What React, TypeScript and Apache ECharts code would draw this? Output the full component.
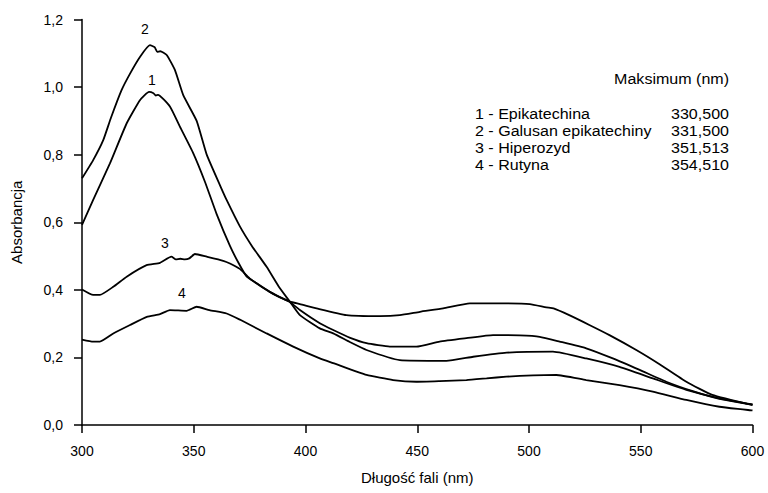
import React, { useEffect, useRef } from "react";
import * as echarts from "echarts";

// Wavelength (nm) / absorbance pairs
const epikatechina: [number, number][] = [
  [300, 0.592], [305, 0.666], [312.5, 0.774], [320, 0.893], [326, 0.962], [330, 0.986],
  [332, 0.982], [333, 0.975], [334, 0.977], [339.4, 0.942], [343.8, 0.883], [349.8, 0.804],
  [355, 0.72], [360.2, 0.625], [366.2, 0.53], [370, 0.48], [373.6, 0.44], [378, 0.42],
  [384, 0.394], [388, 0.38], [393, 0.364], [397.5, 0.34], [406.4, 0.301], [412.4, 0.281],
  [420, 0.258], [427.3, 0.242], [437.7, 0.232], [449.6, 0.232], [460, 0.247], [472, 0.257],
  [483.9, 0.266], [495.8, 0.265], [504.8, 0.261], [513.7, 0.247], [525.6, 0.227],
  [537.5, 0.197], [549.5, 0.163], [561.4, 0.128], [573.3, 0.1], [585.2, 0.077], [600, 0.06],
];

const galusanEpikatechiny: [number, number][] = [
  [300, 0.73], [305, 0.784], [309.5, 0.843], [313, 0.91], [317.7, 0.991], [321.5, 1.04],
  [326, 1.09], [330.4, 1.124], [332.5, 1.118], [333.7, 1.104], [335, 1.106], [337.9, 1.095],
  [341.6, 1.05], [345.3, 0.976], [351.3, 0.9], [355.8, 0.8], [361.7, 0.71],
  [364.7, 0.666], [370.7, 0.587], [376, 0.53], [382.6, 0.468], [388, 0.41], [393, 0.365],
  [397.5, 0.325], [406.4, 0.286], [412.4, 0.271], [420, 0.245], [427.3, 0.222],
  [442.2, 0.192], [463, 0.19], [475, 0.202], [490, 0.214], [510.7, 0.217], [525.6, 0.197],
  [540.5, 0.172], [555.4, 0.138], [570.4, 0.104], [585.2, 0.079], [600, 0.061],
];

const hiperozyd: [number, number][] = [
  [300, 0.401], [305, 0.385], [308, 0.385], [314, 0.409], [320, 0.439], [328.9, 0.473],
  [334.9, 0.48], [340, 0.498], [342, 0.49], [344, 0.492], [346, 0.49], [348, 0.493],
  [350.5, 0.506], [355.8, 0.498], [363.2, 0.486], [366.2, 0.478], [370.6, 0.462],
  [375, 0.434], [384, 0.394], [393, 0.365], [397.5, 0.358], [405, 0.345], [418.3, 0.325],
  [433.3, 0.322], [442.2, 0.325], [451.2, 0.335], [461.6, 0.345], [473.5, 0.36],
  [487, 0.36], [500.4, 0.358], [507.8, 0.348], [511, 0.345], [518, 0.325], [527, 0.296],
  [536, 0.266], [548, 0.222], [558.4, 0.18], [570.4, 0.128], [582, 0.089], [600, 0.059],
];

const rutyna: [number, number][] = [
  [300, 0.253], [305, 0.247], [308, 0.247], [314, 0.271], [321.5, 0.296], [329, 0.32],
  [334.9, 0.328], [339.3, 0.34], [346.8, 0.338], [351.3, 0.35], [357, 0.34], [364.7, 0.33],
  [370.6, 0.312], [382.6, 0.271], [394.5, 0.232], [406.4, 0.197], [412.4, 0.183],
  [427.3, 0.148], [439.2, 0.133], [449.6, 0.128], [460, 0.13], [472, 0.133], [481, 0.138],
  [489.9, 0.143], [501.8, 0.147], [512.2, 0.148], [525.6, 0.133], [540.5, 0.118],
  [555.4, 0.099], [570.4, 0.074], [585.2, 0.054], [600, 0.043],
];

const seriesNames = ["1", "2", "3", "4"];
const legendNames = ["1 - Epikatechina", "2 - Galusan epikatechiny", "3 - Hiperozyd", "4 - Rutyna"];
const legendMaxima = ["330,500", "331,500", "351,513", "354,510"];
const legendTitle = "Maksimum (nm)";
const xAxisTitle = "Długość fali (nm)";
const yAxisTitle = "Absorbancja";

const FONT = "'Liberation Sans', Arial, sans-serif";

export default function App() {
  const ref = useRef<HTMLDivElement>(null);
  useEffect(() => {
    if (!ref.current) return;
    const chart = echarts.init(ref.current, undefined, { renderer: "svg" });
    const allData = [epikatechina, galusanEpikatechiny, hiperozyd, rutyna];
    const curveLabelPos: [number, number][] = [
      [152, 80], [145, 29], [165, 243], [182, 293],
    ];
    const graphics: any[] = [];
    seriesNames.forEach((n, i) => {
      graphics.push({
        type: "text",
        x: curveLabelPos[i][0],
        y: curveLabelPos[i][1],
        style: { text: n, font: `14px ${FONT}`, fill: "#000", align: "center", verticalAlign: "middle" },
      });
    });
    const sx = 1.07;
    graphics.push({
      type: "text",
      x: 729,
      y: 79,
      scaleX: sx,
      style: { text: legendTitle, font: `15px ${FONT}`, fill: "#000", align: "right", verticalAlign: "middle" },
    });
    const rowY = [113.5, 130.5, 147.5, 164.5];
    legendNames.forEach((n, i) => {
      graphics.push({
        type: "text",
        x: 475,
        y: rowY[i],
        scaleX: sx,
        style: { text: n, font: `15px ${FONT}`, fill: "#000", align: "left", verticalAlign: "middle" },
      });
      graphics.push({
        type: "text",
        x: 729,
        y: rowY[i],
        scaleX: sx,
        style: { text: legendMaxima[i], font: `15px ${FONT}`, fill: "#000", align: "right", verticalAlign: "middle" },
      });
    });

    chart.setOption({
      animation: false,
      backgroundColor: "#fff",
      grid: { left: 82, right: 15.5, top: 19.5, bottom: 68, containLabel: false },
      xAxis: {
        type: "value",
        min: 300,
        max: 600,
        interval: 50,
        name: xAxisTitle,
        nameLocation: "middle",
        nameGap: 45,
        nameTextStyle: { fontFamily: FONT, fontSize: 15, color: "#000" },
        axisLine: { show: true, lineStyle: { color: "#000", width: 1.5 } },
        axisTick: { show: true, inside: false, length: 8, lineStyle: { color: "#000", width: 1.5 } },
        axisLabel: { margin: 19, fontFamily: FONT, fontSize: 14, color: "#000" },
        splitLine: { show: false },
      },
      yAxis: {
        type: "value",
        min: 0,
        max: 1.2,
        interval: 0.2,
        name: yAxisTitle,
        nameLocation: "middle",
        nameGap: 58,
        nameTextStyle: { fontFamily: FONT, fontSize: 15, color: "#000" },
        axisLine: { show: true, lineStyle: { color: "#000", width: 1.5 } },
        axisTick: { show: true, inside: false, length: 8, lineStyle: { color: "#000", width: 1.5 } },
        axisLabel: {
          margin: 19,
          fontFamily: FONT,
          fontSize: 14,
          color: "#000",
          formatter: (v: number) => v.toFixed(1).replace(".", ","),
        },
        splitLine: { show: false },
      },
      series: allData.map((d, i) => ({
        name: legendNames[i],
        type: "line",
        data: d,
        showSymbol: false,
        symbol: "none",
        smooth: 0.15,
        lineStyle: { color: "#000", width: 1.8 },
        z: 2,
      })),
      graphic: graphics,
    });
    return () => chart.dispose();
  }, []);
  return (
    <div
      ref={ref}
      style={{ position: "fixed", left: 0, top: 0, width: 768, height: 493, background: "#fff" }}
    />
  );
}
